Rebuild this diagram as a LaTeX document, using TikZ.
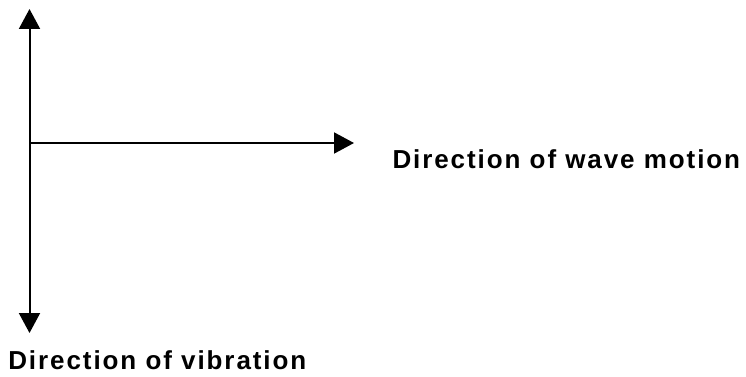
\documentclass[tikz,border=0pt]{standalone}
\usepackage{fontspec}
\setmainfont{Liberation Sans}
\newfontfamily\lblfont[LetterSpace=7.4]{Liberation Sans}
\usetikzlibrary{arrows.meta}
\begin{document}
\begin{tikzpicture}[x=1pt,y=-1pt,
  axis/.style={line width=2pt,-{Triangle[length=20pt,width=21pt]}},
  lbl/.style={anchor=base west,inner sep=0pt,font=\lblfont\fontsize{26}{30}\selectfont\bfseries}]
\useasboundingbox (0,0) rectangle (746,377);
\coordinate (o) at (29.5,143);
\coordinate (top) at (29.5,9);
\coordinate (bot) at (29.5,333);
\coordinate (right) at (354,143);
\draw[axis] (o) -- (top);
\draw[axis] (o) -- (bot);
\draw[axis] (o) -- (right);
\node[lbl] (wave) at (392.3,168.5) {Direction of wave motion};
\node[lbl] (vib) at (8.1,369.5) {Direction of vibration};
\end{tikzpicture}
\end{document}
